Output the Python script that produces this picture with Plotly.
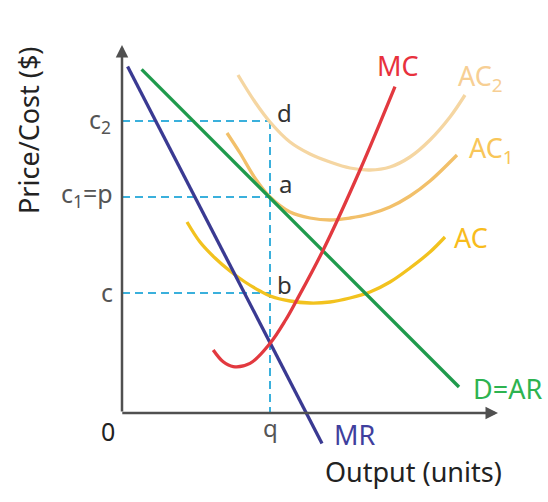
import plotly.graph_objects as go

# Key levels
q = 37
c2 = 73
p = 54
c = 30

# Demand (AR) and marginal revenue (straight lines)
ar_x = [4.9, 84.25]
ar_y = [85.9, 6.5]
mr_x = [1.4, 50.0]
mr_y = [86.6, -7.6]

# Marginal cost
mc_x = [22.8, 25.3, 27.8, 32, 37, 40.9, 43.7, 50.3, 59.5, 68.25]
mc_y = [15.75, 12.8, 11.6, 12.4, 17.4, 23.25, 28.25, 40.75, 60.75, 81.6]

# Average cost curves
ac_x = [16.25, 19.5, 23.25, 27, 30.75, 34.5, 37, 42, 47, 52, 57, 62, 67, 72, 77, 80.75]
ac_y = [47.75, 42.75, 38.75, 35.5, 32.75, 30.5, 29.25, 28, 27.5, 27.75, 28.75, 30.25,
        32.75, 36.25, 40.25, 44]

ac1_x = [26.25, 29.5, 33.25, 37, 42, 47, 52, 57, 62, 67, 72, 77, 83.75]
ac1_y = [70, 65, 58.75, 54, 50.25, 48.75, 48.25, 48.75, 49.75, 51.5, 54.25, 58, 64.5]

ac2_x = [29, 33.25, 37, 42, 47, 52, 57, 62, 67, 72, 77, 82, 85.75]
ac2_y = [84.5, 77.75, 72.75, 67.75, 64.75, 62.75, 61.25, 60.75, 61.5, 64, 68.25, 74, 79.5]

FONT = "Noto Sans"
AXIS_COL = "#505050"
DASH_COL = "#3ab0dc"

fig = go.Figure()

# dashed guide lines
for lvl in [c2, p, c]:
    fig.add_trace(go.Scatter(x=[0, q], y=[lvl, lvl], mode="lines",
                             line=dict(color=DASH_COL, width=2, dash="8px,5px"),
                             hoverinfo="skip"))
fig.add_trace(go.Scatter(x=[q, q], y=[c2, 0], mode="lines",
                         line=dict(color=DASH_COL, width=2, dash="8px,5px"),
                         hoverinfo="skip"))

def curve(x, y, color, shape="spline"):
    fig.add_trace(go.Scatter(x=x, y=y, mode="lines",
                             line=dict(color=color, width=3.3, shape=shape, smoothing=1),
                             hoverinfo="skip"))

curve(ac2_x, ac2_y, "#f5d6a2")
curve(ac1_x, ac1_y, "#f2c06a")
curve(ac_x, ac_y, "#f2c21e")
curve(ar_x, ar_y, "#1f9a4c", "linear")
curve(mr_x, mr_y, "#3a3a92", "linear")
curve(mc_x, mc_y, "#e2393f")

annotations = []
# axes with arrows
annotations.append(dict(x=0, y=92, ax=0, ay=0, xref="x", yref="y", axref="x", ayref="y",
                        showarrow=True, arrowhead=2, arrowsize=1, arrowwidth=2.5,
                        arrowcolor=AXIS_COL, text=""))
annotations.append(dict(x=94, y=0, ax=-0.3, ay=0, xref="x", yref="y", axref="x", ayref="y",
                        showarrow=True, arrowhead=2, arrowsize=1, arrowwidth=2.5,
                        arrowcolor=AXIS_COL, text=""))

def label(x, y, text, color="#333333", size=27, anchor="center", **kw):
    annotations.append(dict(x=x, y=y, text=text, showarrow=False,
                            font=dict(family=FONT, size=size, color=color),
                            xref="x", yref="y", xanchor=anchor, **kw))

label(69.1, 87.0, "MC", "#e8313d")
label(83.5, 84.0, "AC<sub>2</sub>", "#f7cf94", anchor="left")
label(86.2, 66.0, "AC<sub>1</sub>", "#f8c659", anchor="left")
label(82.4, 43.8, "AC", "#f8bc1c", anchor="left")
label(87.2, 6.2, "D=AR", "#2db350", anchor="left")
label(52.4, -5.4, "MR", "#3f3f9e", anchor="left")
label(38.25, 75.25, "d", size=24, anchor="left")
label(38.7, 57.4, "a", size=24, anchor="left")
label(38.25, 32.25, "b", size=24, anchor="left")
label(-2.2, 73.25, "c<sub>2</sub>", "#555555", size=25, anchor="right")
label(-1.75, 54.75, "c<sub>1</sub>=p", "#555555", size=25, anchor="right")
label(-1.75, 30.25, "c", "#555555", size=25, anchor="right")
label(-3.6, -4.6, "0", "#222222", size=25)
label(37, -3.5, "q", "#555555", size=24)
label(50.2, -14.5, "Output (units)", "#222222", anchor="left")
label(-23.5, 70.5, "Price/Cost ($)", "#222222", textangle=-90)

fig.update_layout(
    width=548, height=502,
    margin=dict(l=0, r=0, t=0, b=0),
    paper_bgcolor="white", plot_bgcolor="white",
    showlegend=False,
    xaxis=dict(range=[-30.5, 106.5], visible=False, fixedrange=True),
    yaxis=dict(range=[-22.25, 103.25], visible=False, fixedrange=True),
    annotations=annotations,
)

fig.write_html("out.html", config={"displayModeBar": False},
               post_script="document.body.style.margin='0px';")
